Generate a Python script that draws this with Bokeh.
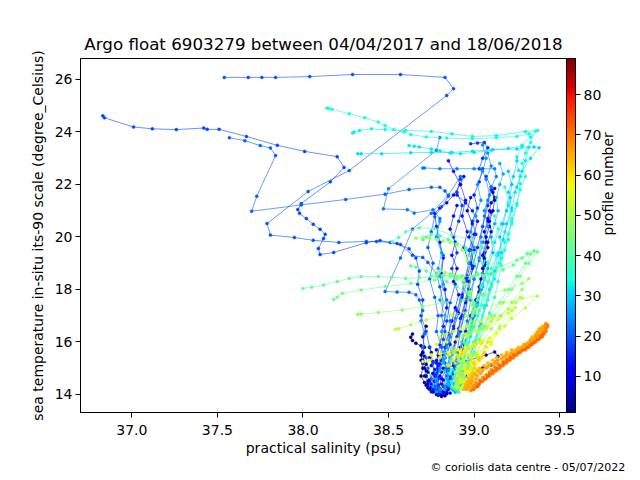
import sys
import numpy as np
from bokeh.plotting import figure
from bokeh.models import (Range1d, LinearAxis, FixedTicker, PrintfTickFormatter,
                          ColorBar, LinearColorMapper, Title)
from bokeh.embed import file_html
from bokeh.resources import INLINE

title_text = "Argo float 6903279 between 04/04/2017 and 18/06/2018"
x_label = "practical salinity (psu)"
y_label = "sea temperature in-situ its-90 scale (degree_Celsius)"
cb_label = "profile number"
credit_text = "\u00a9 coriolis data centre - 05/07/2022"

x_ticks = [37.0, 37.5, 38.0, 38.5, 39.0, 39.5]
y_ticks = [14, 16, 18, 20, 22, 24, 26]
cb_ticks = [10, 20, 30, 40, 50, 60, 70, 80]
cmin, cmax = 1, 89

# ---- profiles: practical salinity (s_) and temperature (t_) ----
s_p01 = [38.64, 38.63, 38.64, 38.66, 38.69, 38.70, 38.69, 38.70, 38.69, 38.71, 38.73, 38.76, 38.79, 38.81, 38.83]
t_p01 = [16.30, 16.18, 16.05, 15.95, 15.85, 15.6, 15.3, 15.0, 14.7, 14.45, 14.25, 14.1, 13.97, 13.92, 13.95]
s_p02 = [38.72, 38.70, 38.71, 38.69, 38.70, 38.72, 38.71, 38.73, 38.72, 38.74, 38.76, 38.78]
t_p02 = [16.6, 16.2, 15.8, 15.5, 15.2, 14.9, 14.7, 14.5, 14.35, 14.2, 14.1, 14.0]
s_p03 = [38.70, 38.71, 38.70, 38.72, 38.71, 38.73, 38.72, 38.74, 38.73, 38.75, 38.77, 38.79, 38.81]
t_p03 = [15.6, 15.45, 15.3, 15.15, 15.0, 14.85, 14.7, 14.55, 14.4, 14.28, 14.15, 14.05, 13.98]
s_p04 = [38.82, 38.88, 38.95, 39.02, 39.07, 39.12, 39.14, 39.13, 39.10, 39.05, 39.00, 38.96, 38.92, 38.90]
t_p04 = [15.0, 15.1, 15.25, 15.4, 15.5, 15.62, 15.45, 15.25, 15.12, 15.02, 14.9, 14.7, 14.4, 14.2]
s_p05 = [39.10, 39.12, 39.11, 39.09, 39.10, 39.08, 39.06, 39.07, 39.05, 39.03, 39.01, 38.98, 38.95, 38.92, 38.89, 38.86, 38.83, 38.80]
t_p05 = [21.8, 21.4, 21.0, 20.6, 20.2, 19.8, 19.4, 19.0, 18.6, 18.1, 17.6, 17.0, 16.4, 15.8, 15.2, 14.7, 14.3, 14.05]
s_p06 = [38.74, 38.75, 38.74, 38.76, 38.75, 38.77, 38.76, 38.78, 38.77, 38.79, 38.80, 38.82, 38.84]
t_p06 = [15.8, 15.6, 15.4, 15.25, 15.1, 14.95, 14.8, 14.65, 14.5, 14.35, 14.22, 14.1, 14.02]
s_p07 = [39.12, 39.11, 39.12, 39.10, 39.09, 39.08, 39.09, 39.07, 39.08, 39.06, 39.05, 39.06, 39.04, 39.02, 39.00,
         38.98, 38.95, 38.93, 38.90, 38.88, 38.86, 38.85, 38.84]
t_p07 = [21.85, 21.7, 21.5, 21.3, 21.0, 20.7, 20.4, 20.0, 19.6, 19.2, 18.8, 18.4, 18.0, 17.5, 17.0,
         16.5, 16.0, 15.6, 15.2, 14.8, 14.5, 14.2, 14.05]
s_p08 = [38.98, 38.96, 38.99, 38.97, 39.00, 38.98, 38.96, 38.97, 38.95, 38.93, 38.91, 38.89, 38.86, 38.84, 38.81, 38.79]
t_p08 = [21.5, 21.0, 20.5, 20.0, 19.5, 19.0, 18.5, 18.0, 17.5, 17.0, 16.5, 16.0, 15.5, 15.0, 14.6, 14.2]
s_p09 = [39.10, 39.08, 39.06, 39.07, 39.05, 39.06, 39.04, 39.03, 39.01, 38.99, 38.97, 38.94, 38.92, 38.89, 38.86, 38.84, 38.82]
t_p09 = [20.95, 20.6, 20.2, 19.8, 19.3, 18.9, 18.4, 17.9, 17.4, 16.9, 16.4, 15.9, 15.4, 15.0, 14.6, 14.3, 14.0]
s_p10 = [38.90, 38.88, 38.86, 38.89, 38.87, 38.90, 38.88, 38.91, 38.89, 38.87, 38.85, 38.83, 38.81, 38.79, 38.77, 38.76]
t_p10 = [21.2, 20.8, 20.3, 19.8, 19.3, 18.8, 18.3, 17.8, 17.3, 16.8, 16.3, 15.8, 15.3, 14.9, 14.5, 14.2]
s_p11 = [38.94, 38.92, 38.88, 38.84, 38.80, 38.77, 38.78, 38.80, 38.82, 38.81, 38.83, 38.84, 38.82, 38.80, 38.78, 38.79, 38.80]
t_p11 = [22.3, 22.0, 21.6, 21.3, 21.1, 20.9, 20.4, 19.8, 19.2, 18.6, 18.0, 17.3, 16.6, 15.9, 15.2, 14.6, 14.1]
s_p12 = [38.78, 38.79, 38.78, 38.80, 38.79, 38.81, 38.80, 38.82, 38.81, 38.83, 38.84, 38.86]
t_p12 = [15.7, 15.5, 15.3, 15.15, 15.0, 14.85, 14.7, 14.55, 14.4, 14.28, 14.15, 14.05]
s_p13 = [38.85, 38.88, 38.92, 38.95, 38.93, 38.96, 38.94, 38.97, 38.95, 38.93, 38.90, 38.88, 38.85, 38.82, 38.79, 38.76, 38.74, 38.73, 38.75]
t_p13 = [22.9, 22.5, 22.0, 21.4, 20.8, 20.2, 19.6, 19.0, 18.4, 17.8, 17.2, 16.6, 16.0, 15.5, 15.1, 14.8, 14.5, 14.3, 14.1]
s_p14 = [38.90, 38.95, 38.99, 39.02, 39.00, 38.97, 38.99, 38.96, 38.93, 38.91, 38.88, 38.86, 38.83, 38.80, 38.77, 38.75, 38.77, 38.79]
t_p14 = [21.6, 21.3, 21.0, 20.6, 20.1, 19.5, 18.9, 18.3, 17.7, 17.1, 16.5, 15.9, 15.4, 15.0, 14.7, 14.4, 14.2, 14.0]
s_p15 = [39.05, 39.03, 39.00, 39.02, 38.99, 39.01, 38.98, 39.00, 38.97, 38.95, 38.92, 38.90, 38.87, 38.84, 38.82]
t_p15 = [22.6, 22.1, 21.6, 21.1, 20.6, 20.1, 19.5, 18.9, 18.3, 17.6, 16.9, 16.2, 15.5, 14.9, 14.3]
s_p16 = [38.98, 39.02, 39.06, 39.08, 39.05, 39.03, 39.07, 39.10, 39.08, 39.05, 39.02, 38.99, 38.97, 38.95, 38.92, 38.90, 38.88, 38.86]
t_p16 = [23.55, 23.58, 23.60, 23.40, 23.0, 22.6, 22.3, 21.9, 21.2, 20.4, 19.6, 18.8, 18.0, 17.2, 16.4, 15.6, 14.9, 14.3]
s_p17 = [38.92, 38.90, 38.93, 38.91, 38.88, 38.90, 38.87, 38.89, 38.86, 38.84, 38.82, 38.80, 38.78, 38.77]
t_p17 = [22.2, 21.7, 21.2, 20.6, 20.0, 19.4, 18.8, 18.2, 17.5, 16.8, 16.1, 15.4, 14.8, 14.3]
s_p18 = [36.83, 36.84, 37.01, 37.12, 37.26, 37.42, 37.44, 37.51, 37.67, 37.85, 38.01, 38.20, 38.24, 38.16, 37.99,
         37.97, 37.98, 38.02, 38.06, 38.10, 38.13, 38.12, 38.09, 38.10, 38.18, 38.37, 38.45, 38.55, 38.62, 38.66,
         38.68, 38.67, 38.70, 38.69, 38.72, 38.74, 38.76, 38.78, 38.80]
t_p18 = [24.62, 24.54, 24.19, 24.12, 24.09, 24.15, 24.10, 24.10, 23.83, 23.49, 23.26, 23.06, 22.65, 22.10, 21.27,
         21.05, 20.90, 20.70, 20.48, 20.29, 20.10, 19.94, 19.56, 19.33, 19.41, 19.78, 19.86, 19.75, 19.55, 19.2,
         18.7, 18.2, 17.6, 17.0, 16.4, 15.8, 15.2, 14.6, 14.2]
s_p19 = [37.54, 37.68, 37.76, 37.84, 38.04, 38.29, 38.57, 38.83, 38.88, 38.84, 38.27, 38.03, 37.79, 37.81, 37.95,
         38.06, 38.21, 38.37, 38.43, 38.51, 38.57, 38.64, 38.70, 38.73, 38.78, 38.80, 38.82, 38.81, 38.83, 38.84,
         38.86, 38.85, 38.87, 38.88, 38.90]
t_p19 = [26.08, 26.08, 26.08, 26.08, 26.11, 26.19, 26.19, 26.08, 25.65, 25.39, 22.53, 21.73, 20.51, 20.07, 19.98,
         19.87, 19.79, 19.83, 19.83, 19.79, 19.71, 19.30, 19.22, 19.03, 18.6, 18.1, 17.5, 17.0, 16.4, 15.9,
         15.4, 15.0, 14.6, 14.3, 14.15]
s_p20 = [37.57, 37.66, 37.75, 37.81, 37.84, 37.73, 37.70, 37.99, 38.25, 38.48, 38.62, 38.75, 38.80, 38.83, 38.85,
         38.81, 38.77, 38.75, 38.73, 38.76, 38.74, 38.77, 38.79, 38.78, 38.81, 38.83, 38.84, 38.86]
t_p20 = [23.78, 23.67, 23.48, 23.39, 23.10, 21.55, 20.98, 21.22, 21.43, 21.63, 21.81, 21.89, 21.89, 21.75, 21.55,
         21.15, 20.77, 20.2, 19.6, 19.0, 18.4, 17.7, 17.0, 16.4, 15.8, 15.2, 14.7, 14.3]
s_p21 = [38.92, 38.85, 38.75, 38.64, 38.57, 38.48, 38.55, 38.62, 38.66, 38.68, 38.70, 38.69, 38.71, 38.70, 38.72, 38.73, 38.75, 38.78, 38.80]
t_p21 = [22.3, 21.6, 20.9, 20.3, 19.2, 17.92, 17.90, 17.89, 17.80, 17.6, 17.2, 16.8, 16.3, 15.8, 15.4, 15.0, 14.6, 14.3, 14.1]
s_p22 = [38.80, 38.78, 38.50, 38.47, 38.61, 38.65, 38.76, 38.80, 38.78, 38.82, 38.80, 38.84, 38.86, 38.85, 38.88, 38.90]
t_p22 = [23.79, 23.30, 21.84, 21.07, 21.04, 20.91, 21.04, 20.7, 20.0, 19.3, 18.5, 17.6, 16.8, 16.0, 15.2, 14.5]
s_p23 = [38.70, 38.71, 38.80, 38.90, 39.00, 39.12, 39.13, 39.10, 39.08, 39.06, 39.04, 39.03, 39.00, 38.98, 38.96, 38.93, 38.90, 38.88]
t_p23 = [22.63, 22.63, 22.60, 22.60, 22.60, 22.60, 22.3, 21.9, 21.4, 20.8, 20.0, 19.2, 18.4, 17.6, 16.8, 16.0, 15.2, 14.4]
s_p24 = [39.08, 39.10, 39.07, 39.09, 39.06, 39.08, 39.05, 39.03, 39.00, 38.97, 38.94, 38.91, 38.88, 38.85, 38.83]
t_p24 = [23.2, 22.7, 22.2, 21.6, 21.0, 20.4, 19.8, 19.1, 18.4, 17.7, 17.0, 16.3, 15.6, 14.9, 14.3]
s_p25 = [39.05, 39.07, 39.05, 39.02, 39.04, 39.01, 38.98, 39.00, 38.97, 38.94, 38.92, 38.89, 38.86, 38.83, 38.80, 38.78, 38.80]
t_p25 = [23.5, 23.0, 22.5, 22.0, 21.4, 20.8, 20.2, 19.6, 19.0, 18.3, 17.6, 16.9, 16.2, 15.6, 15.0, 14.5, 14.2]
s_p26 = [38.80, 38.78, 38.81, 38.79, 38.82, 38.80, 38.83, 38.81, 38.84, 38.82, 38.80, 38.78, 38.76, 38.78]
t_p26 = [20.6, 20.0, 19.4, 18.8, 18.2, 17.6, 17.0, 16.4, 15.8, 15.3, 14.9, 14.6, 14.3, 14.1]
s_p27 = [39.15, 39.17, 39.15, 39.13, 39.14, 39.12, 39.10, 39.11, 39.08, 39.05, 39.02, 38.99, 38.95, 38.92, 38.88, 38.85, 38.83]
t_p27 = [22.8, 22.4, 22.0, 21.5, 21.0, 20.5, 20.0, 19.4, 18.8, 18.1, 17.4, 16.7, 16.0, 15.4, 14.9, 14.5, 14.2]
s_p28 = [38.82, 38.83, 38.82, 38.84, 38.83, 38.85, 38.84, 38.86, 38.85, 38.87, 38.88, 38.89]
t_p28 = [15.6, 15.4, 15.2, 15.05, 14.9, 14.75, 14.6, 14.48, 14.36, 14.25, 14.15, 14.08]
s_p29 = [39.20, 39.22, 39.21, 39.19, 39.17, 39.15, 39.16, 39.13, 39.10, 39.07, 39.04, 39.01, 38.97, 38.93, 38.90, 38.87]
t_p29 = [22.5, 22.0, 21.5, 21.0, 20.5, 20.0, 19.4, 18.8, 18.1, 17.4, 16.7, 16.0, 15.4, 14.9, 14.5, 14.2]
s_p30 = [39.25, 39.23, 39.20, 39.22, 39.19, 39.17, 39.14, 39.12, 39.09, 39.06, 39.03, 39.00, 38.96, 38.93, 38.90]
t_p30 = [22.9, 22.3, 21.7, 21.1, 20.5, 19.9, 19.3, 18.7, 18.0, 17.3, 16.6, 15.9, 15.2, 14.7, 14.3]
s_p31 = [38.32, 38.34, 38.46, 38.63, 38.75, 38.87, 38.99, 39.11, 39.25, 39.35, 39.38, 39.33, 39.28, 39.25, 39.20,
         39.16, 39.12, 39.08, 39.05, 39.02, 38.99, 38.96, 38.93]
t_p31 = [23.17, 23.17, 23.17, 23.21, 23.22, 23.22, 23.27, 23.33, 23.35, 23.43, 23.40, 23.0, 22.5, 21.9, 21.2,
         20.5, 19.8, 19.0, 18.2, 17.4, 16.6, 15.8, 15.0]
s_p32 = [38.62, 38.65, 38.68, 38.75, 38.80, 38.86, 38.92, 39.00, 39.10, 39.20, 39.28, 39.32, 39.30, 39.27, 39.24,
         39.22, 39.18, 39.14, 39.10, 39.06, 39.02, 38.98]
t_p32 = [23.48, 23.46, 23.43, 23.35, 23.28, 23.20, 23.17, 23.22, 23.30, 23.38, 23.45, 23.42, 22.9, 22.3, 21.7,
         21.0, 20.2, 19.4, 18.6, 17.8, 17.0, 16.2]
s_p33 = [38.29, 38.30, 38.33, 38.40, 38.48, 38.60, 38.75, 38.87, 38.99, 39.13, 39.30, 39.37, 39.33, 39.28, 39.25,
         39.26, 39.27, 39.25, 39.22, 39.20, 39.16, 39.12, 39.08, 39.04, 39.00, 38.96]
t_p33 = [23.96, 24.00, 24.06, 24.12, 24.09, 24.06, 24.02, 23.93, 23.83, 23.86, 24.02, 24.06, 23.81, 23.49, 23.05,
         22.54, 22.03, 21.27, 20.6, 19.9, 19.2, 18.4, 17.6, 16.8, 16.0, 15.2]
s_p34 = [38.14, 38.15, 38.17, 38.27, 38.36, 38.44, 38.48, 38.53, 38.59, 38.63, 38.72, 38.84, 38.99, 39.13, 39.25,
         39.32, 39.36, 39.33, 39.30, 39.28, 39.30, 39.27, 39.25, 39.22, 39.18, 39.15, 39.10, 39.05, 39.00, 38.96, 38.93]
t_p34 = [24.91, 24.90, 24.87, 24.69, 24.54, 24.38, 24.25, 24.09, 24.00, 23.90, 23.81, 23.77, 23.74, 23.78, 23.83,
         23.93, 24.04, 23.6, 23.2, 22.8, 22.3, 21.8, 21.2, 20.5, 19.8, 19.0, 18.2, 17.4, 16.6, 15.8, 15.0]
s_p35 = [38.85, 38.86, 38.85, 38.87, 38.86, 38.88, 38.87, 38.89, 38.88, 38.90, 38.91]
t_p35 = [15.5, 15.3, 15.1, 14.95, 14.8, 14.65, 14.5, 14.38, 14.26, 14.16, 14.08]
s_p36 = [39.18, 39.20, 39.22, 39.20, 39.18, 39.16, 39.14, 39.12, 39.09, 39.06, 39.03, 39.00, 38.97, 38.94, 38.91, 38.89]
t_p36 = [21.9, 21.3, 20.7, 20.1, 19.5, 18.9, 18.3, 17.7, 17.1, 16.6, 16.1, 15.6, 15.1, 14.7, 14.4, 14.2]
s_p37 = [39.12, 39.14, 39.11, 39.13, 39.10, 39.08, 39.05, 39.03, 39.00, 38.97, 38.94, 38.92, 38.90]
t_p37 = [20.8, 20.3, 19.8, 19.3, 18.8, 18.3, 17.8, 17.2, 16.6, 16.0, 15.4, 14.9, 14.4]
s_p38 = [38.70, 38.72, 38.75, 38.80, 38.85, 38.90, 38.95, 39.00, 39.05, 39.08, 39.10, 39.08, 39.05, 39.02, 38.98, 38.95, 38.92, 38.90]
t_p38 = [19.9, 20.0, 20.1, 20.05, 19.9, 19.75, 19.6, 19.4, 19.0, 18.6, 18.1, 17.6, 17.0, 16.4, 15.8, 15.2, 14.7, 14.3]
s_p39 = [38.95, 38.97, 39.00, 39.02, 39.04, 39.02, 39.00, 38.98, 38.95, 38.93, 38.91, 38.89]
t_p39 = [19.5, 19.3, 19.0, 18.6, 18.1, 17.6, 17.1, 16.5, 15.9, 15.3, 14.8, 14.3]
s_p40 = [38.52, 38.56, 38.60, 38.68, 38.77, 38.87, 38.99, 39.05, 39.08, 39.06, 39.03, 39.00, 38.97, 38.94, 38.91, 38.89, 38.87]
t_p40 = [19.82, 19.98, 20.2, 20.35, 20.32, 20.07, 19.88, 19.6, 19.0, 18.4, 17.8, 17.2, 16.6, 16.0, 15.4, 14.8, 14.3]
s_p41 = [38.63, 38.66, 38.72, 38.78, 38.84, 38.90, 38.95, 38.98, 39.00, 39.02, 39.04, 39.02, 38.99, 38.96, 38.93, 38.91]
t_p41 = [18.9, 18.85, 18.7, 18.5, 18.3, 18.1, 17.9, 17.7, 17.4, 17.0, 16.5, 16.0, 15.5, 15.0, 14.6, 14.3]
s_p42 = [38.00, 38.05, 38.12, 38.20, 38.27, 38.34, 38.44, 38.52, 38.60, 38.68, 38.75, 38.82, 38.87, 38.93, 38.99,
         39.05, 39.11, 39.17, 39.23, 39.28, 39.31, 39.35, 39.30, 39.25, 39.20, 39.15, 39.10, 39.05, 39.00, 38.95,
         38.92, 38.90]
t_p42 = [18.04, 18.08, 18.17, 18.30, 18.42, 18.49, 18.49, 18.46, 18.42, 18.45, 18.49, 18.52, 18.55, 18.52, 18.49,
         18.55, 18.61, 18.75, 18.93, 19.2, 19.37, 19.47, 19.0, 18.5, 18.0, 17.5, 17.0, 16.5, 16.0, 15.5,
         15.0, 14.5]
s_p43 = [38.78, 38.82, 38.86, 38.90, 38.94, 38.97, 39.00, 38.99, 38.97, 38.95, 38.93, 38.91]
t_p43 = [18.6, 18.55, 18.5, 18.4, 18.2, 17.9, 17.5, 17.0, 16.4, 15.8, 15.2, 14.6]
s_p44 = [38.18, 38.20, 38.23, 38.34, 38.48, 38.63, 38.77, 38.89, 39.01, 39.13, 39.25, 39.33, 39.37, 39.32, 39.27,
         39.22, 39.17, 39.12, 39.07, 39.02, 38.98, 38.95, 38.92]
t_p44 = [17.62, 17.70, 17.85, 17.98, 18.11, 18.23, 18.36, 18.42, 18.55, 18.80, 19.12, 19.35, 19.44, 19.0, 18.5,
         18.0, 17.5, 17.0, 16.5, 16.0, 15.5, 15.0, 14.5]
s_p45 = [38.87, 38.88, 38.87, 38.89, 38.90, 38.89, 38.91, 38.90, 38.92, 38.93, 38.94]
t_p45 = [15.8, 15.6, 15.4, 15.2, 15.0, 14.85, 14.7, 14.55, 14.42, 14.3, 14.2]
s_p46 = [38.80, 38.83, 38.86, 38.88, 38.90, 38.92, 38.94, 38.96, 38.98, 38.99, 38.98, 38.96, 38.94, 38.92, 38.90]
t_p46 = [18.7, 18.65, 18.6, 18.55, 18.5, 18.45, 18.35, 18.2, 17.9, 17.4, 16.8, 16.2, 15.6, 15.0, 14.4]
s_p47 = [38.32, 38.34, 38.44, 38.58, 38.70, 38.82, 38.94, 39.06, 39.18, 39.28, 39.32, 39.28, 39.22, 39.16, 39.10, 39.05, 39.00, 38.96, 38.93]
t_p47 = [17.05, 17.06, 17.12, 17.22, 17.35, 17.50, 17.60, 17.79, 17.98, 18.23, 18.42, 18.0, 17.5, 17.0, 16.5, 16.0, 15.5, 15.0, 14.5]
s_p48 = [38.66, 38.70, 38.74, 38.78, 38.82, 38.86, 38.90, 38.93, 38.96, 38.98, 38.97, 38.95, 38.93, 38.91, 38.90]
t_p48 = [19.95, 19.98, 19.95, 19.9, 19.85, 19.8, 19.7, 19.5, 19.1, 18.5, 17.8, 17.0, 16.2, 15.4, 14.6]
s_p49 = [38.89, 38.90, 38.91, 38.92, 38.91, 38.93, 38.92, 38.94, 38.95, 38.96]
t_p49 = [15.7, 15.5, 15.3, 15.1, 14.95, 14.8, 14.65, 14.5, 14.35, 14.22]
s_p50 = [38.95, 39.00, 39.05, 39.10, 39.15, 39.20, 39.24, 39.27, 39.22, 39.15, 39.08, 39.02, 38.97, 38.94]
t_p50 = [16.3, 16.45, 16.6, 16.8, 17.0, 17.25, 17.5, 17.7, 17.2, 16.6, 16.0, 15.4, 14.9, 14.4]
s_p51 = [38.54, 38.56, 38.63, 38.72, 38.87, 39.01, 39.16, 39.28, 39.37, 39.30, 39.22, 39.15, 39.08, 39.02, 38.98, 38.95]
t_p51 = [16.48, 16.50, 16.65, 16.84, 17.03, 17.22, 17.47, 17.66, 17.75, 17.3, 16.9, 16.5, 16.0, 15.5, 15.0, 14.5]
s_p53 = [38.80, 38.84, 38.88, 38.92, 38.96, 39.00, 39.04, 39.08, 39.11, 39.07, 39.02, 38.98, 38.94, 38.91, 38.89]
t_p53 = [16.2, 16.3, 16.4, 16.5, 16.6, 16.7, 16.8, 16.9, 16.95, 16.5, 16.0, 15.5, 15.0, 14.6, 14.3]
s_p54 = [38.78, 38.84, 38.90, 38.96, 39.02, 39.08, 39.14, 39.20, 39.24, 39.18, 39.10, 39.03, 38.98, 38.94, 38.92]
t_p54 = [15.9, 16.0, 16.1, 16.25, 16.4, 16.6, 16.85, 17.1, 17.3, 16.6, 16.0, 15.4, 14.9, 14.5, 14.2]
s_p56 = [38.92, 38.93, 38.94, 38.95, 38.94, 38.96, 38.97, 38.98, 38.99, 39.00]
t_p56 = [15.6, 15.45, 15.3, 15.15, 15.0, 14.85, 14.7, 14.55, 14.4, 14.25]
s_p57 = [38.75, 38.80, 38.85, 38.90, 38.95, 39.00, 39.05, 39.02, 38.98, 38.95, 38.92, 38.90]
t_p57 = [15.5, 15.55, 15.6, 15.7, 15.8, 15.9, 16.05, 15.6, 15.2, 14.8, 14.5, 14.25]
s_p58 = [38.70, 38.74, 38.80, 38.86, 38.92, 38.98, 39.04, 39.09, 39.13, 39.10, 39.05, 39.00, 38.96, 38.93]
t_p58 = [15.25, 15.30, 15.40, 15.52, 15.65, 15.80, 15.98, 16.15, 16.33, 15.9, 15.4, 14.9, 14.5, 14.2]
s_p59 = [38.94, 38.96, 38.98, 38.99, 39.00, 39.01, 39.00, 38.99, 38.98, 38.97]
t_p59 = [15.6, 15.5, 15.4, 15.25, 15.1, 14.95, 14.8, 14.6, 14.42, 14.25]
s_p60 = [38.85, 38.88, 38.92, 38.96, 39.00, 39.04, 39.07, 39.04, 39.00, 38.97, 38.95, 38.94]
t_p60 = [15.1, 15.3, 15.5, 15.7, 15.85, 15.95, 15.8, 15.4, 15.0, 14.7, 14.4, 14.2]
s_p62 = [38.90, 38.93, 38.96, 39.00, 39.03, 39.06, 39.03, 39.00, 38.98, 38.96, 38.95]
t_p62 = [14.6, 14.8, 15.0, 15.2, 15.4, 15.6, 15.3, 15.0, 14.7, 14.4, 14.2]
s_p64 = [38.94, 38.95, 38.95, 38.96, 38.97, 38.99, 39.00, 39.02, 39.03, 39.06, 39.08, 39.11, 39.13, 39.16, 39.19,
         39.22, 39.26, 39.29, 39.32, 39.33, 39.34, 39.36, 39.37, 39.38, 39.40]
t_p64 = [14.20, 14.30, 14.40, 14.50, 14.60, 14.70, 14.80, 14.90, 15.00, 15.10, 15.20, 15.30, 15.40, 15.50, 15.60,
         15.70, 15.80, 15.90, 16.00, 16.10, 16.20, 16.30, 16.40, 16.50, 16.60]
s_p65 = [38.95, 38.96, 38.97, 38.98, 38.99, 39.01, 39.03, 39.05, 39.08, 39.11, 39.13, 39.16, 39.18, 39.21, 39.24,
         39.27, 39.29, 39.31, 39.33, 39.35, 39.36, 39.37, 39.39, 39.40]
t_p65 = [14.25, 14.35, 14.45, 14.55, 14.65, 14.75, 14.85, 14.95, 15.05, 15.15, 15.25, 15.35, 15.45, 15.55, 15.65,
         15.75, 15.85, 15.95, 16.05, 16.15, 16.25, 16.35, 16.45, 16.55]
s_p66 = [38.96, 38.97, 38.98, 38.99, 39.01, 39.02, 39.04, 39.05, 39.07, 39.09, 39.12, 39.14, 39.17, 39.19, 39.22,
         39.25, 39.28, 39.30, 39.33, 39.34, 39.36, 39.37, 39.38, 39.39, 39.41, 39.42]
t_p66 = [14.20, 14.30, 14.40, 14.50, 14.60, 14.70, 14.80, 14.90, 15.00, 15.10, 15.20, 15.30, 15.40, 15.50, 15.60,
         15.70, 15.80, 15.90, 16.00, 16.10, 16.20, 16.30, 16.40, 16.50, 16.60, 16.70]
s_p68 = [38.98, 38.99, 39.00, 39.01, 39.03, 39.05, 39.07, 39.09, 39.10, 39.12, 39.14, 39.17, 39.19, 39.21, 39.24,
         39.27, 39.30, 39.32, 39.34, 39.36, 39.37, 39.38, 39.40, 39.41, 39.42, 39.43]
t_p68 = [14.15, 14.25, 14.35, 14.45, 14.55, 14.65, 14.75, 14.85, 14.95, 15.05, 15.15, 15.25, 15.35, 15.45, 15.55,
         15.65, 15.75, 15.85, 15.95, 16.05, 16.15, 16.25, 16.35, 16.45, 16.55, 16.65]
s_p69 = [38.99, 39.01, 39.02, 39.04, 39.06, 39.08, 39.10, 39.12, 39.14, 39.16, 39.18, 39.20, 39.22, 39.24, 39.26,
         39.28, 39.31, 39.33, 39.35, 39.37, 39.39, 39.40, 39.41, 39.42, 39.43, 39.42]
t_p69 = [14.18, 14.28, 14.38, 14.48, 14.58, 14.68, 14.78, 14.88, 14.98, 15.08, 15.18, 15.28, 15.38, 15.48, 15.58,
         15.68, 15.78, 15.88, 15.98, 16.08, 16.18, 16.28, 16.38, 16.48, 16.58, 16.68]
s_p70 = [39.00, 39.02, 39.03, 39.05, 39.07, 39.09, 39.11, 39.13, 39.15, 39.17, 39.19, 39.21, 39.23, 39.25, 39.27,
         39.30, 39.32, 39.34, 39.36, 39.38, 39.40, 39.41, 39.42]
t_p70 = [14.20, 14.30, 14.40, 14.50, 14.60, 14.70, 14.80, 14.90, 15.00, 15.10, 15.20, 15.30, 15.40, 15.50, 15.60,
         15.70, 15.80, 15.90, 16.00, 16.10, 16.20, 16.30, 16.40]
s_p72 = [39.02, 39.03, 39.04, 39.06, 39.08, 39.09, 39.11, 39.13, 39.15, 39.17, 39.19, 39.21, 39.23, 39.26, 39.29,
         39.31, 39.33, 39.35, 39.37, 39.39, 39.40]
t_p72 = [14.30, 14.40, 14.50, 14.60, 14.70, 14.80, 14.90, 15.00, 15.10, 15.20, 15.30, 15.40, 15.50, 15.60, 15.70,
         15.80, 15.90, 16.00, 16.10, 16.20, 16.30]

profiles = [
    (1, s_p01, t_p01), (2, s_p02, t_p02), (3, s_p03, t_p03), (4, s_p04, t_p04), (5, s_p05, t_p05),
    (6, s_p06, t_p06), (7, s_p07, t_p07), (8, s_p08, t_p08), (9, s_p09, t_p09), (10, s_p10, t_p10),
    (11, s_p11, t_p11), (12, s_p12, t_p12), (13, s_p13, t_p13), (14, s_p14, t_p14), (15, s_p15, t_p15),
    (16, s_p16, t_p16), (17, s_p17, t_p17), (18, s_p18, t_p18), (19, s_p19, t_p19), (20, s_p20, t_p20),
    (21, s_p21, t_p21), (22, s_p22, t_p22), (23, s_p23, t_p23), (24, s_p24, t_p24), (25, s_p25, t_p25),
    (26, s_p26, t_p26), (27, s_p27, t_p27), (28, s_p28, t_p28), (29, s_p29, t_p29), (30, s_p30, t_p30),
    (31, s_p31, t_p31), (32, s_p32, t_p32), (33, s_p33, t_p33), (34, s_p34, t_p34), (35, s_p35, t_p35),
    (36, s_p36, t_p36), (37, s_p37, t_p37), (38, s_p38, t_p38), (39, s_p39, t_p39), (40, s_p40, t_p40),
    (41, s_p41, t_p41), (42, s_p42, t_p42), (43, s_p43, t_p43), (44, s_p44, t_p44), (45, s_p45, t_p45),
    (46, s_p46, t_p46), (47, s_p47, t_p47), (48, s_p48, t_p48), (49, s_p49, t_p49), (50, s_p50, t_p50),
    (51, s_p51, t_p51), (53, s_p53, t_p53), (54, s_p54, t_p54), (56, s_p56, t_p56), (57, s_p57, t_p57),
    (58, s_p58, t_p58), (59, s_p59, t_p59), (60, s_p60, t_p60), (62, s_p62, t_p62), (64, s_p64, t_p64),
    (65, s_p65, t_p65), (66, s_p66, t_p66), (68, s_p68, t_p68), (69, s_p69, t_p69), (70, s_p70, t_p70),
    (72, s_p72, t_p72),
]


def jet_hex(f):
    f = min(max(f, 0.0), 1.0)
    r = np.interp(f, [0, 0.35, 0.66, 0.89, 1], [0, 0, 1, 1, 0.5])
    g = np.interp(f, [0, 0.125, 0.375, 0.64, 0.91, 1], [0, 0, 1, 1, 0, 0])
    b = np.interp(f, [0, 0.11, 0.34, 0.65, 1], [0.5, 1, 1, 0, 0])
    return "#%02x%02x%02x" % (int(round(r * 255)), int(round(g * 255)), int(round(b * 255)))


palette = [jet_hex(i / 255.0) for i in range(256)]

FONT = "DejaVu Sans"

p = figure(frame_width=486, frame_height=354,
           x_range=Range1d(36.70, 39.54), y_range=Range1d(13.31, 26.80),
           output_backend="svg", toolbar_location=None,
           min_border_left=80, min_border_top=58, min_border_right=10, min_border_bottom=10,
           title=title_text)

p.title.text_font = FONT
p.title.text_font_size = "16.7px"
p.title.text_font_style = "normal"
p.title.align = "center"
p.title.text_color = "black"

p.grid.visible = False
p.outline_line_color = "black"
p.outline_line_width = 1
p.background_fill_color = "white"
p.border_fill_color = "white"

p.xaxis.ticker = FixedTicker(ticks=x_ticks)
p.xaxis.formatter = PrintfTickFormatter(format="%.1f")
p.yaxis.ticker = FixedTicker(ticks=y_ticks)
p.yaxis.formatter = PrintfTickFormatter(format="%d")
p.xaxis.axis_label = x_label
p.yaxis.axis_label = y_label

for n, s, t in profiles:
    m = min(len(s), len(t))
    if len(s) != len(t):
        print("length mismatch in profile", n, file=sys.stderr)
    c = jet_hex((n - cmin) / float(cmax - cmin))
    p.line(s[:m], t[:m], line_color=c, line_width=0.6)
    p.scatter(s[:m], t[:m], size=3, fill_color=c, line_color=c, line_width=0.5)

mapper = LinearColorMapper(palette=palette, low=cmin, high=cmax)
cb = ColorBar(color_mapper=mapper, width=9, padding=0, margin=0,
              ticker=FixedTicker(ticks=[]), major_tick_line_color=None,
              major_label_text_font_size="0px", label_standoff=0,
              bar_line_color="black", border_line_color=None, background_fill_alpha=0)
p.add_layout(cb, "right")

p.extra_y_ranges = {"cb": Range1d(cmin, cmax)}
cb_axis = LinearAxis(y_range_name="cb", ticker=FixedTicker(ticks=cb_ticks), axis_label=cb_label)
p.add_layout(cb_axis, "right")

for ax in list(p.xaxis) + list(p.yaxis):
    ax.major_label_text_font = FONT
    ax.major_label_text_font_size = "14px"
    ax.major_label_text_color = "black"
    ax.axis_label_text_font = FONT
    ax.axis_label_text_font_size = "14px"
    ax.axis_label_text_font_style = "normal"
    ax.axis_label_text_color = "black"
    ax.minor_tick_line_color = None
    ax.major_tick_out = 5
    ax.major_tick_in = 0
    ax.major_tick_line_color = "black"
    ax.axis_line_color = "black"
    ax.major_label_standoff = 3
    ax.axis_label_standoff = 6

p.xaxis.major_label_standoff = 7
p.xaxis.axis_label_standoff = 2
cb_axis.major_label_standoff = 3
cb_axis.axis_label_standoff = 4
try:
    cb_axis.axis_label_orientation = np.pi / 2
except Exception as e:
    print("orientation not supported:", e, file=sys.stderr)

credit = Title(text=credit_text, align="left", offset=350, text_font=FONT, standoff=1,
               text_font_size="11px", text_font_style="normal", text_color="black")
p.add_layout(credit, "below")

open("out.html", "w").write(file_html(p, INLINE))
